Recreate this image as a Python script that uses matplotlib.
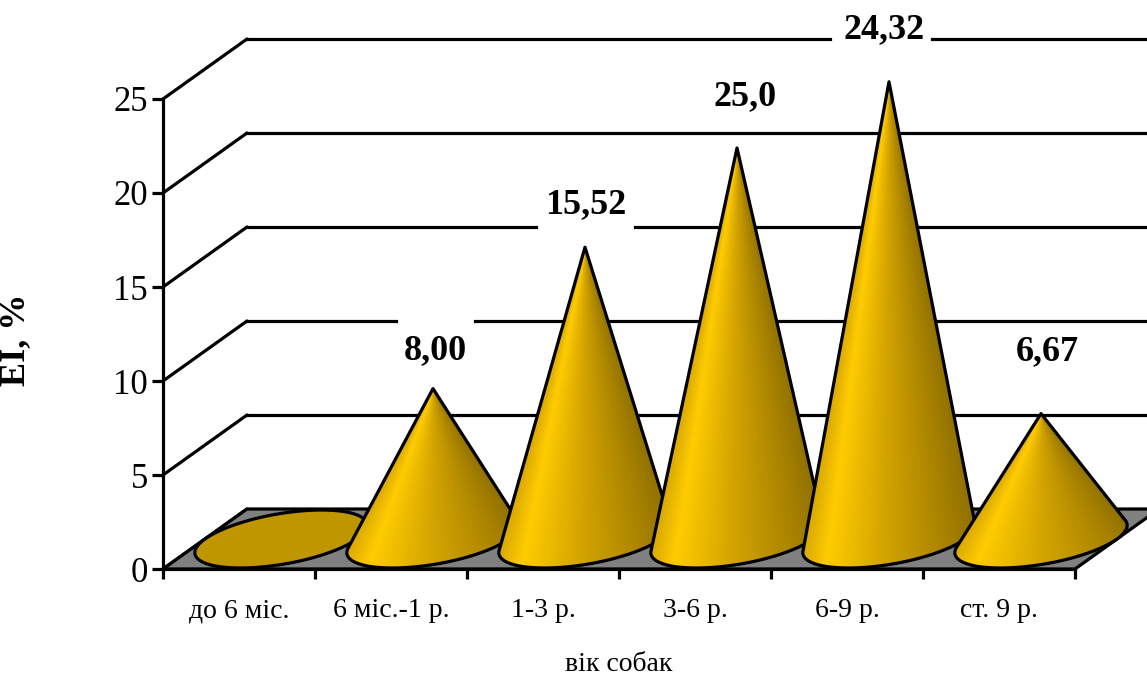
import numpy as np
import matplotlib
matplotlib.use('Agg')
import matplotlib.pyplot as plt
from matplotlib.colors import LinearSegmentedColormap
from matplotlib.patches import Polygon, Rectangle

plt.rcParams['font.family'] = ['Liberation Serif', 'DejaVu Serif']

# data
categories = ['до 6 міс.', '6 міс.-1 р.', '1-3 р.', '3-6 р.', '6-9 р.', 'ст. 9 р.']
values = [0, 8.00, 15.52, 20.8, 24.32, 6.67]
value_labels = [None, '8,00', '15,52', '25,0', '24,32', '6,67']
yticks = [0, 5, 10, 15, 20, 25]

# label offsets from cone tip in pixels
label_offsets = [None, (2, 38), (1, 43), (8, 51), (-5, 52), (6, 62)]
# where the back wall lines break for the labels (level, x from, x to)
grid_gaps = {10: (1.533, 2.053), 15: (2.454, 3.105), 25: (4.388, 5.059)}

PX_X = 152.0   # pixels per category
PX_Y = 18.8    # pixels per unit of value
DX = 84 / PX_X  # depth offset in data units
DY = 60 / PX_Y
LW = 2.3
INK = '#000000'

fig = plt.figure(figsize=(11.47, 6.77), dpi=100)
ax = fig.add_axes([163 / 1147, 1 - 569 / 677, 912 / 1147, 470 / 677])
ax.set_xlim(0, 6)
ax.set_ylim(0, 25)
ax.patch.set_visible(False)

# walls
for v in yticks:
    ax.plot([0, DX], [v, v + DY], color=INK, lw=LW, clip_on=False, zorder=1,
            solid_capstyle='round')
    if v in grid_gaps:
        g0, g1 = grid_gaps[v]
        ax.plot([DX, g0], [v + DY, v + DY], color=INK, lw=LW, clip_on=False, zorder=1)
        ax.plot([g1, 6.6], [v + DY, v + DY], color=INK, lw=LW, clip_on=False, zorder=1)
    elif v > 0:
        ax.plot([DX, 6.6], [v + DY, v + DY], color=INK, lw=LW, clip_on=False, zorder=1)

# floor
ax.add_patch(Polygon([(0, 0), (6, 0), (6 + DX, DY), (DX, DY)], closed=True,
                     facecolor='#808080', edgecolor=INK, lw=LW, clip_on=False,
                     zorder=1.5))

cone_cmap = LinearSegmentedColormap.from_list('cone', [
    (0.00, '#d9a800'), (0.14, '#ffcc00'), (0.45, '#d4a400'),
    (0.80, '#a98300'), (1.00, '#8f7000')])

t = np.linspace(0, 2 * np.pi, 721)[:-1]
for i, v in enumerate(values):
    cx = i + 0.5 + 0.5 * DX
    cy = 0.5 * DY
    ex = cx + 0.5 * np.cos(t) + 0.483 * DX * np.sin(t)
    ey = cy + 0.483 * DY * np.sin(t)
    z = 3 + i
    if v == 0:
        ax.add_patch(Polygon(np.column_stack([ex, ey]), closed=True,
                             facecolor='#bf9600', edgecolor=INK, lw=LW,
                             clip_on=False, zorder=z))
        continue
    tip_y = cy + v
    slope = ((ex - cx) * PX_X) / ((tip_y - ey) * PX_Y)
    a, b = int(np.argmin(slope)), int(np.argmax(slope))
    # walk round the front of the base between both tangent points
    if a < b:
        idx_ab = np.arange(a, b + 1)
    else:
        idx_ab = np.r_[a:len(t), 0:b + 1]
    idx_ba = np.setdiff1d(np.arange(len(t)), idx_ab)
    if ey[idx_ab].mean() > ey[idx_ba].mean():
        if a < b:
            idx = np.r_[a:-1:-1, len(t) - 1:b - 1:-1]
        else:
            idx = np.arange(a, b - 1, -1)
    else:
        idx = idx_ab
    poly = np.vstack([[cx, tip_y], np.column_stack([ex[idx], ey[idx]])])

    x0, x1 = poly[:, 0].min(), poly[:, 0].max()
    y0, y1 = poly[:, 1].min(), poly[:, 1].max()
    gx, gy = np.meshgrid(np.linspace(x0, x1, 500), np.linspace(y0, y1, 500))
    s = ((gx - cx) * PX_X) / (np.maximum(tip_y - gy, 1e-3) * PX_Y)
    shade = np.clip((s - slope.min()) / (slope.max() - slope.min()), 0, 1)
    im = ax.imshow(shade, extent=(x0, x1, y0, y1), origin='lower', aspect='auto',
                   cmap=cone_cmap, vmin=0, vmax=1, interpolation='bilinear', zorder=z)
    outline = Polygon(poly, closed=True, facecolor='none', edgecolor=INK, lw=LW,
                      joinstyle='round', clip_on=False, zorder=z + 0.5)
    ax.add_patch(outline)
    im.set_clip_box(fig.bbox)
    im.set_clip_path(outline)

    if value_labels[i]:
        off = label_offsets[i]
        ax.annotate(value_labels[i], xy=(cx, tip_y),
                    xytext=(off[0] * 0.72, off[1] * 0.72), textcoords='offset points',
                    ha='center', va='center', fontsize=26, fontweight='bold',
                    color=INK, annotation_clip=False, zorder=20)

ax.set_xlim(0, 6)
ax.set_ylim(0, 25)

# axes
for side in ['top', 'right']:
    ax.spines[side].set_visible(False)
for side in ['left', 'bottom']:
    ax.spines[side].set_linewidth(LW)
ax.set_xticks(range(7))
ax.set_xticklabels([])
ax.set_xticks(np.arange(6) + 0.5, categories, minor=True, fontsize=20)
ax.tick_params(axis='x', which='major', length=7, width=LW)
ax.tick_params(axis='x', which='minor', length=0, pad=21)
ax.set_yticks(yticks)
ax.tick_params(axis='y', length=8, width=LW, labelsize=25, pad=3)
ax.set_xlabel('вік собак', fontsize=20, labelpad=21)

# y label is cut off by the left edge in the scan
fig.text(24 / 1147, 1 - 340 / 677, 'ЕІ, %', rotation=90, rotation_mode='anchor',
         ha='center', va='baseline', fontsize=26, fontweight='bold', color=INK)
fig.add_artist(Rectangle((0, 0), 13 / 1147, 1, transform=fig.transFigure,
                         facecolor='white', edgecolor='none'))

fig.savefig('out.png', dpi=100)
